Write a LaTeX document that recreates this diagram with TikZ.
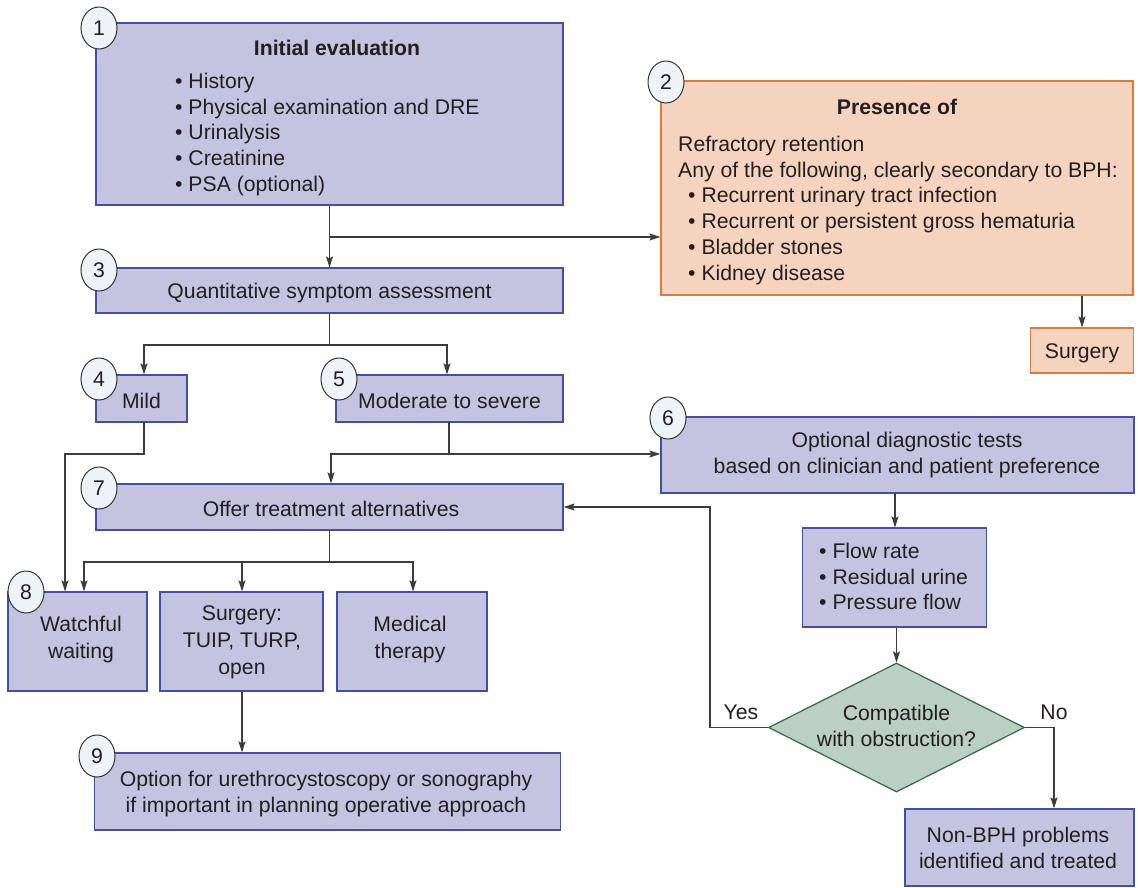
\documentclass[tikz,border=0pt]{standalone}
\usepackage{fontspec}
\setmainfont{Liberation Sans}
\usetikzlibrary{shapes.geometric,arrows.meta}
\definecolor{bfill}{HTML}{C4C3E0}
\definecolor{bdraw}{HTML}{3F51A3}
\definecolor{ofill}{HTML}{F4D4BE}
\definecolor{odraw}{HTML}{E2783A}
\definecolor{dfill}{HTML}{BBCFC2}
\definecolor{ddraw}{HTML}{2F6B47}
\definecolor{nfill}{HTML}{EEF3F7}
\definecolor{ndraw}{HTML}{333333}
\definecolor{lc}{HTML}{3C3C3C}
\definecolor{txtc}{HTML}{231F20}
\newcommand{\fsz}{\fontsize{21.2}{25.7}\selectfont}
\newcommand{\fszw}{\fontsize{21.2}{27}\selectfont}
\begin{document}
\begin{tikzpicture}[x=1pt,y=-1pt,
  every node/.style={font=\fsz, text=txtc},
  box/.style={draw=bdraw, fill=bfill, line width=1.2pt, inner sep=0pt, rectangle},
  obox/.style={draw=odraw, fill=ofill, line width=1.2pt, inner sep=0pt, rectangle},
  num/.style={ellipse, draw=ndraw, fill=nfill, line width=1pt, minimum width=36pt, minimum height=42pt, inner sep=0pt},
  conn/.style={draw=lc, line width=1.1pt},
  arr/.style={conn, -{Stealth[length=11pt,width=7pt,inset=2pt]}},
  txt/.style={inner sep=0pt, align=center},
  ltxt/.style={inner sep=0pt, align=left}]
\useasboundingbox (0,0) rectangle (1138,887);
\fill[white] (0,0) rectangle (1138,887);

% boxes
\node[box, minimum width=467pt, minimum height=182pt] (b1) at (329.5,114) {};
\node[obox, minimum width=472pt, minimum height=214pt] (b2) at (897,188) {};
\node[obox, minimum width=103pt, minimum height=45pt] (bs) at (1082,350.5) {};
\node[box, minimum width=467pt, minimum height=45pt] (b3) at (329.5,290.5) {};
\node[box, minimum width=91pt, minimum height=47pt] (b4) at (141.5,398.5) {};
\node[box, minimum width=227pt, minimum height=47pt] (b5) at (449.5,398.5) {};
\node[box, minimum width=473pt, minimum height=76pt] (b6) at (897.5,455) {};
\node[box, minimum width=467pt, minimum height=46pt] (b7) at (329.5,507) {};
\node[box, minimum width=139pt, minimum height=99pt] (b8) at (77.5,641.5) {};
\node[box, minimum width=163pt, minimum height=99pt] (bsu) at (241.5,641.5) {};
\node[box, minimum width=150pt, minimum height=99pt] (bmt) at (412,641.5) {};
\node[box, minimum width=466pt, minimum height=77pt] (b9) at (327.5,791.5) {};
\node[box, minimum width=184pt, minimum height=99pt] (bt) at (894.5,577.5) {};
\node[diamond, draw=ddraw, fill=dfill, line width=1.2pt, inner sep=0pt, minimum width=256pt, minimum height=129pt] (dc) at (896.5,727.5) {};
\node[box, minimum width=229pt, minimum height=77pt] (bn) at (1019.5,847.5) {};

% texts
\node[txt, font=\fsz\bfseries] (t1h) at (337,48) {Initial evaluation};
\node[ltxt, anchor=north west] (t1b) at (175,73) {• History\\• Physical examination and DRE\\• Urinalysis\\• Creatinine\\• PSA (optional)};
\node[txt, font=\fsz\bfseries] (t2h) at (897,107) {Presence of};
\node[ltxt, anchor=north west] (t2b) at (678,136) {Refractory retention\\Any of the following, clearly secondary to BPH:\\\hspace{10pt}• Recurrent urinary tract infection\\\hspace{10pt}• Recurrent or persistent gross hematuria\\\hspace{10pt}• Bladder stones\\\hspace{10pt}• Kidney disease};
\node[txt] (tsg) at (1082,353) {Surgery};
\node[txt] (t3) at (329.5,293) {Quantitative symptom assessment};
\node[txt] (t4) at (141.5,401) {Mild};
\node[txt] (t5) at (449.5,401) {Moderate to severe};
\node[txt] (t6) at (907,455) {Optional diagnostic tests\\based on clinician and patient preference};
\node[txt] (t7) at (331,509) {Offer treatment alternatives};
\node[txt, font=\fszw] (t8) at (81,640) {Watchful\\waiting};
\node[txt, font=\fszw] (tsu) at (242,642) {Surgery:\\TUIP, TURP,\\open};
\node[txt, font=\fszw] (tmt) at (410,640) {Medical\\therapy};
\node[txt] (t9) at (326,794) {Option for urethrocystoscopy or sonography\\if important in planning operative approach};
\node[ltxt, anchor=north west] (ttb) at (819,543) {• Flow rate\\• Residual urine\\• Pressure flow};
\node[txt] (tdc) at (896.5,726) {Compatible\\with obstruction?};
\node[txt] (tn) at (1018,848) {Non-BPH problems\\identified and treated};
\node[txt] (tyes) at (741,712) {Yes};
\node[txt] (tno) at (1054,712) {No};

% number circles
\node[num] (c1) at (99,28) {1};
\node[num] (c2) at (666,82) {2};
\node[num] (c3) at (99,270) {3};
\node[num] (c4) at (99,379) {4};
\node[num] (c5) at (339,379) {5};
\node[num] (c6) at (668,418) {6};
\node[num] (c7) at (99,488) {7};
\node[num] (c8) at (26,592) {8};
\node[num] (c9) at (97,756) {9};

% helper coordinates
\coordinate (x65) at (65,0);
\coordinate (x84) at (84,0);
\coordinate (x144) at (144,0);
\coordinate (x242) at (242,0);
\coordinate (x331) at (331,0);
\coordinate (x413) at (413,0);
\coordinate (x447) at (447,0);
\coordinate (x895) at (895,0);
\coordinate (x1054) at (1054,0);

% connectors
\coordinate (j1) at (329.5,237);
\draw[arr] (b1.south) -- (b3.north);
\draw[arr] (j1) -- (j1 -| b2.west);
\draw[arr] (bs.north |- b2.south) -- (bs.north);

\coordinate (j3) at (329.5,345);
\draw[conn] (b3.south) -- (j3);
\draw[arr] (j3) -| (x144 |- b4.north);
\draw[arr] (j3) -| (x447 |- b5.north);

\coordinate (m4) at (144,422);
\coordinate (m4b) at (144,454);
\draw[arr] (m4) -- (m4b) -| (x65 |- b8.north);

\coordinate (m5) at (449,422);
\coordinate (m5b) at (449,454);
\draw[conn] (m5) -- (m5b);
\draw[arr] (m5b) -| (x331 |- b7.north);
\draw[arr] (m5b) -- (m5b -| b6.west);

\coordinate (j7) at (329.5,562);
\draw[conn] (b7.south) -- (j7);
\draw[arr] (j7) -| (x84 |- b8.north);
\draw[arr] (j7) -| (x242 |- bsu.north);
\draw[arr] (j7) -| (x413 |- bmt.north);

\draw[arr] (x242 |- bsu.south) -- (x242 |- b9.north);

\draw[arr] (x895 |- b6.south) -- (x895 |- bt.north);
\draw[arr] (dc.north |- bt.south) -- (dc.north);

\coordinate (ky) at (710,727.5);
\draw[arr] (dc.west) -- (ky) |- (b7.east);
\coordinate (kn) at (1054,727.5);
\draw[arr] (dc.east) -- (kn) -- (x1054 |- bn.north);
\end{tikzpicture}
\end{document}
